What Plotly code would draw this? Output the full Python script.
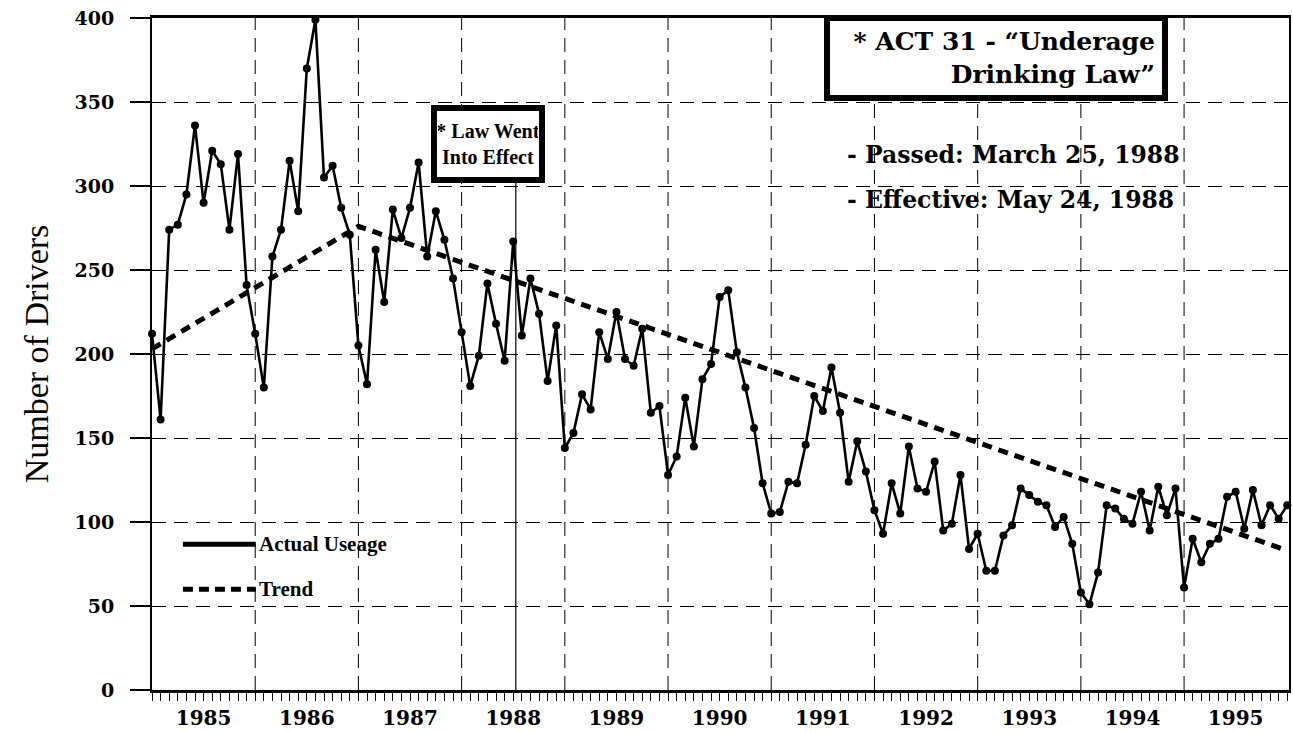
import plotly.graph_objects as go

# ---------------- data ----------------
years = [1985, 1986, 1987, 1988, 1989, 1990, 1991, 1992, 1993, 1994, 1995]

# monthly counts, Jan 1985 .. Jan 1996
actual_useage = [
    212, 161, 274, 277, 295, 336, 290, 321, 313, 274, 319, 241,   # 1985
    212, 180, 258, 274, 315, 285, 370, 399, 305, 312, 287, 271,   # 1986
    205, 182, 262, 231, 286, 269, 287, 314, 258, 285, 268, 245,   # 1987
    213, 181, 199, 242, 218, 196, 267, 211, 245, 224, 184, 217,   # 1988
    144, 153, 176, 167, 213, 197, 225, 197, 193, 215, 165, 169,   # 1989
    128, 139, 174, 145, 185, 194, 234, 238, 201, 180, 156, 123,   # 1990
    105, 106, 124, 123, 146, 175, 166, 192, 165, 124, 148, 130,   # 1991
    107, 93, 123, 105, 145, 120, 118, 136, 95, 99, 128, 84,       # 1992
    93, 71, 71, 92, 98, 120, 116, 112, 110, 97, 103, 87,          # 1993
    58, 51, 70, 110, 108, 102, 99, 118, 95, 121, 104, 120,        # 1994
    61, 90, 76, 87, 90, 115, 118, 96, 119, 98, 110, 102,          # 1995
    110,                                                           # 1996
]

trend_months = [0, 24, 132]
trend_values = [203, 276, 83]

y_ticks = [0, 50, 100, 150, 200, 250, 300, 350, 400]

# ---------------- derived ----------------
months = list(range(len(actual_useage)))
tick_text = [str(years[m // 12]) if (m % 12 == 6 and m // 12 < len(years)) else "" for m in months]
year_bounds = [12 * k for k in range(1, len(years))]

LAW_LINE_X = 42.3
BLACK = "black"
DASH_GRID = "14px,8px"

fig = go.Figure()

fig.add_trace(go.Scatter(
    x=trend_months, y=trend_values, mode="lines", name="Trend",
    line=dict(color=BLACK, width=5, dash="10px,7px"),
    cliponaxis=False, hoverinfo="skip",
))
fig.add_trace(go.Scatter(
    x=months, y=actual_useage, mode="lines+markers", name="Actual Useage",
    line=dict(color=BLACK, width=2.6),
    marker=dict(color=BLACK, size=8, symbol="circle"),
    cliponaxis=False,
))

shapes = []
for b in year_bounds:
    shapes.append(dict(type="line", xref="x", yref="y", x0=b, x1=b, y0=0, y1=400,
                       line=dict(color=BLACK, width=1, dash=DASH_GRID), layer="below"))
shapes.append(dict(type="line", xref="x", yref="y", x0=LAW_LINE_X, x1=LAW_LINE_X, y0=0, y1=302,
                   line=dict(color=BLACK, width=1.2), layer="below"))

# hand-drawn legend
def px_x(p):
    return (p - 152) / 1139.0

def px_y(p):
    return (691 - p) / 673.0

shapes.append(dict(type="line", xref="paper", yref="paper",
                   x0=px_x(183), x1=px_x(256), y0=px_y(545), y1=px_y(545),
                   line=dict(color=BLACK, width=5)))
shapes.append(dict(type="line", xref="paper", yref="paper",
                   x0=px_x(183), x1=px_x(256), y0=px_y(590), y1=px_y(590),
                   line=dict(color=BLACK, width=5, dash="10px,6px")))

annotations = [
    dict(xref="paper", yref="paper", x=px_x(257), y=px_y(545), xanchor="left", yanchor="middle",
         text="Actual Useage", showarrow=False,
         font=dict(family="Liberation Serif", size=21, color=BLACK, weight="bold")),
    dict(xref="paper", yref="paper", x=px_x(257), y=px_y(590), xanchor="left", yanchor="middle",
         text="Trend", showarrow=False,
         font=dict(family="Liberation Serif", size=21, color=BLACK, weight="bold")),
    dict(xref="paper", yref="paper", x=px_x(488.5), y=px_y(144), xanchor="center", yanchor="middle",
         text="* Law Went<br>Into Effect", showarrow=False, align="center",
         width=100, height=64, bgcolor="white", bordercolor=BLACK, borderwidth=6, borderpad=1,
         font=dict(family="Liberation Serif", size=20, color=BLACK, weight="bold")),
    dict(xref="paper", yref="paper", x=px_x(997), y=px_y(58), xanchor="center", yanchor="middle",
         text="* ACT 31 - \u201cUnderage<br>Drinking Law\u201d", showarrow=False, align="right",
         width=318, height=60, bgcolor="white", bordercolor=BLACK, borderwidth=6, borderpad=7,
         font=dict(family="DejaVu Serif", size=25, color=BLACK, weight="bold")),
    dict(xref="paper", yref="paper", x=px_x(846), y=px_y(155), xanchor="left", yanchor="middle",
         text="- Passed: March 25, 1988", showarrow=False,
         font=dict(family="DejaVu Serif", size=23.5, color=BLACK, weight="bold")),
    dict(xref="paper", yref="paper", x=px_x(846), y=px_y(200), xanchor="left", yanchor="middle",
         text="- Effective: May 24, 1988", showarrow=False,
         font=dict(family="DejaVu Serif", size=23.5, color=BLACK, weight="bold")),
]

fig.update_layout(
    width=1293, height=732,
    margin=dict(l=152, r=2, t=18, b=41),
    plot_bgcolor="white", paper_bgcolor="white",
    showlegend=False,
    shapes=shapes, annotations=annotations,
    xaxis=dict(
        range=[0, 132.2], tickmode="array", tickvals=months, ticktext=tick_text,
        ticks="outside", ticklen=8, tickwidth=1, tickcolor=BLACK,
        showline=True, linecolor=BLACK, linewidth=2.5, mirror=True,
        showgrid=False, zeroline=False,
        tickfont=dict(family="DejaVu Serif", size=20, color=BLACK, weight="bold"),
    ),
    yaxis=dict(
        range=[0, 400], tickmode="array", tickvals=y_ticks,
        ticks="outside", ticklen=20, tickwidth=1.5, tickcolor=BLACK,
        showline=True, linecolor=BLACK, linewidth=2, mirror=True,
        showgrid=True, gridcolor=BLACK, gridwidth=1, griddash=DASH_GRID,
        zeroline=False, ticklabelstandoff=12,
        tickfont=dict(family="DejaVu Serif", size=19, color=BLACK, weight="bold"),
        title=dict(text="Number of Drivers", standoff=16,
                   font=dict(family="Liberation Serif", size=34, color=BLACK)),
    ),
)

fig.write_html(
    "out.html",
    config={"displayModeBar": False},
    post_script="document.body.style.margin='0';document.body.style.padding='0';",
)
